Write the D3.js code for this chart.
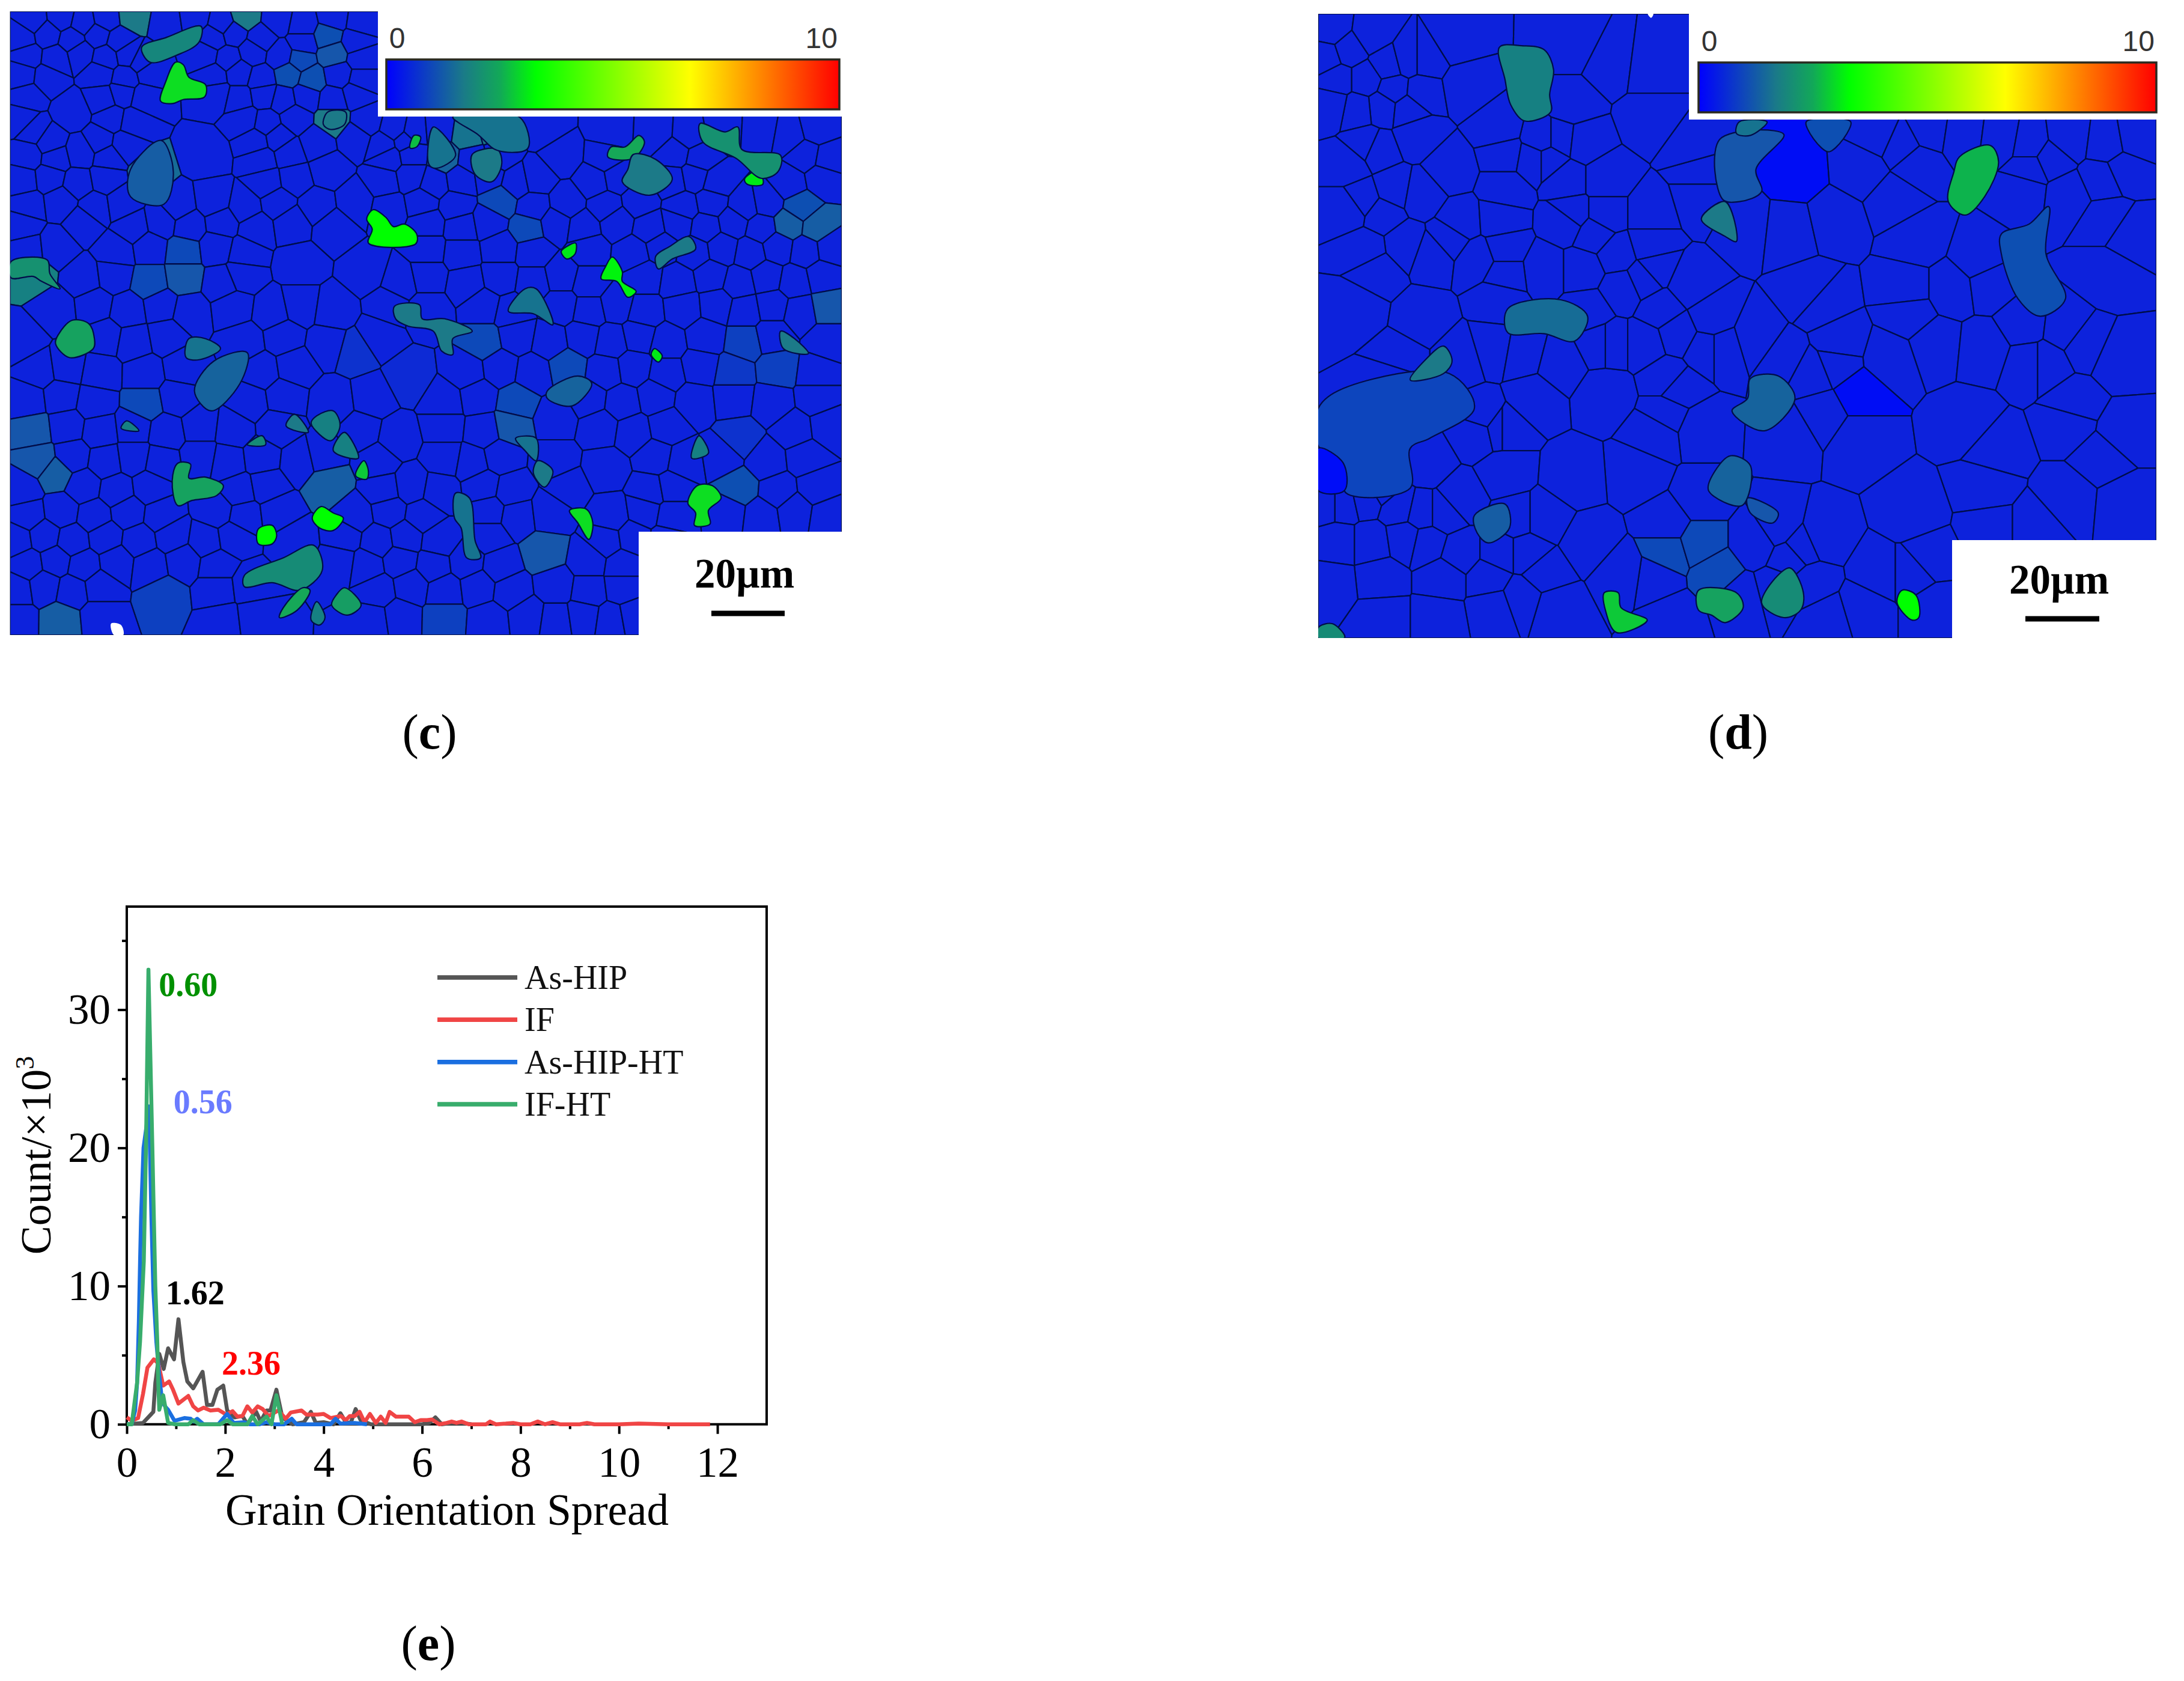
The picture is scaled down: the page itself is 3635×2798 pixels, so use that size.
<!DOCTYPE html>
<html>
<head>
<meta charset="utf-8">
<script src="https://cdn.jsdelivr.net/npm/d3@7"></script>
<style>
  body { margin: 0; background: #fff; }
  text { font-family: "Liberation Serif", serif; }
</style>
</head>
<body>
<svg id="fig" width="3635" height="2798"></svg>
<script>
// (e) grain orientation spread curves, x and count/1000
const asHipX = [0,.33,.54,.58,.66,.75,.84,.96,1.05,1.15,1.23,1.35,1.43,1.54,1.63,1.74,1.84,1.96,2.04,2.19,2.35,2.45,2.63,2.72,2.84,2.92,3.04,3.16,3.37,3.6,3.74,3.84,4,4.2,4.34,4.45,4.55,4.65,4.75,4.96,5.16,5.6,6,6.15,6.27,6.4,6.6,6.8,7];
const asHipY = [0,.1,.9,3,5.1,4,5.5,4.7,7.6,4.5,3.1,2.6,3.1,3.8,1.4,1.4,2.5,2.8,1,.5,.6,0,.9,.2,1,1,2.5,.5,0,.15,.9,.1,.15,0,.8,.15,.1,1.1,.3,0,0,0,0,.1,.5,0,.1,.1,0];
const ifX = [0,.1,.23,.33,.42,.55,.64,.74,.86,.94,1.05,1.25,1.35,1.45,1.56,1.7,1.86,2.02,2.15,2.25,2.35,2.45,2.55,2.66,2.76,2.88,3.08,3.23,3.33,3.55,3.65,3.88,4,4.14,4.35,4.45,4.53,4.63,4.73,4.83,4.94,5.06,5.16,5.26,5.34,5.47,5.73,5.85,5.97,6.1,6.2,6.35,6.5,6.6,6.7,6.8,6.95,7.1,7.3,7.38,7.5,7.7,7.85,8,8.2,8.35,8.5,8.65,8.8,9,9.2,9.35,9.5,10,10.4,11,11.5,11.85];
const ifY = [.5,.25,.45,2.2,4.1,4.7,4.4,2.8,3.1,2.5,1.5,2.05,1.3,1,1.2,1,1.05,.7,.95,.55,.6,1.3,.85,1.3,1.1,.6,1,.4,.85,1,.7,.7,.75,.45,.6,.3,.6,.6,.9,.15,.75,.1,.55,.1,.9,.55,.55,.15,.3,.3,.35,0,.1,.2,.1,.2,0,0,0,.2,0,.05,.1,0,0,.2,0,.15,0,0,0,.1,0,0,.05,0,0,0];
const asHipHtX = [0,.1,.17,.21,.245,.27,.29,.34,.455,.47,.5,.54,.6,.66,.72,.8,.84,.97,1.17,1.3,1.36,1.43,1.56,1.86,2.04,2.17,2.39,2.5,2.7,2.84,3,3.2,3.35,3.45,4.14,4.24,4.34,4.63,4.88];
const asHipHtY = [0,0,1,3,7.4,11.8,15,20,23,20,15,9.7,6,3.5,1.6,1.2,1.05,.25,.45,.4,.2,.4,0,0,.75,.1,.15,0,0,.15,0,0,.4,0,0,.4,.05,.1,0];
const ifHtX = [0,.1,.21,.27,.346,.39,.44,.52,.58,.62,.64,.66,.74,.84,.98,1.25,1.35,1.47,1.9,2.04,2.15,2.45,2.55,2.66,2.84,2.94,3.04,3.16];
const ifHtY = [0,0,3,6,11.8,20,32.9,20,10,6,3,1.05,2.1,.1,0,0,.3,0,0,.3,0,0,.6,0,.55,0,2.1,0];

const seriesNames = ["As-HIP", "IF", "As-HIP-HT", "IF-HT"];
const seriesColors = ["#555555", "#f04545", "#1a6fe0", "#38ad6c"];
const xMajor = [0,2,4,6,8,10,12];
const xMinor = [1,3,5,7,9,11];
const yMajor = [0,10,20,30];
const yMinor = [5,15,25,35];
const peakLabels = ["0.60", "0.56", "1.62", "2.36"];
const peakColors = ["#009000", "#6a7bff", "#000000", "#ff0000"];
// label anchor in chart units
const peakX = [.65, .95, .79, 1.93];
const peakY = [31.0, 22.5, 8.7, 3.6];

// grain orientation spread colour key
const gosStops = [0, 1.7, 2.5, 3.3, 6.7, 10];
const gosColors = ["#0000ff", "#1a7a88", "#12a858", "#00ff00", "#ffff00", "#ff0000"];
const baseGos = 0.5;

// map (c): grain centres [x, y, gos] in scan units
const grainsC = [
[60,42],[110,36],[150,46],[190,38],[240,32,1.7],[300,44],[350,36],[400,48],[440,34,1.7],[500,40],[545,50],[600,36],[650,44],
[40,76],[85,68],[130,80],[175,70],[215,82],[385,76],[420,66],[470,78],[545,86],[590,72,1.1],[640,84],
[50,112],[100,118],[145,106],[190,116],[230,108],[255,122],[370,110],[410,118],[455,104],[505,112],[540,120,1],[600,108,1.2],[650,118],
[40,150],[85,156],[180,148],[225,158],[270,146],[385,152],[430,146],[470,158],[520,148,1.1],[560,160,1.1],[610,150],[650,160],
[50,194],[185,198],[220,186],[260,196],[390,188],[430,198],[475,190],[510,200],[550,192],[600,200],[640,188],[130,225],
[40,240],[60,262],[200,238],[240,246],[440,240],[480,248],[530,236],[600,240,1.7],[660,244],
[90,285],[180,282],[225,290],[460,284],[500,276],[570,288],[640,276],[690,292],[730,284],[710,258],[745,266],[790,262],[840,270,1.6],[885,256,1.7],[980,258],[1100,262],[1180,266],[1240,270],[1300,258],[1370,262],[1420,272],[1470,258],
[50,312],[100,318],[145,306],[195,316],[370,310],[470,320],[520,308],[590,340],[700,316],[740,308],[800,316,1.4],[850,322],[900,312],[1010,312],[1090,318],[1215,308],[1260,318],[1450,312],[1490,320],
[40,362],[90,356],[140,368],[190,358],[270,345,1.5],[480,366],[530,358],[690,364],[740,354],[780,368],[830,360],[880,352],[930,366],[965,358],[1070,364],[1110,356],[1210,362],[1250,354],[1290,366],[1420,368],[1480,356],
[50,412],[110,404],[170,416],[220,408],[320,414],[385,404],[440,416],[500,406],[570,414],[640,404],[700,418],[760,406],[820,414],[900,404,1],[960,416],[1020,408],[1090,414],[1150,404],[1230,416],[1280,406],[1340,414],[1380,406],[1440,416,1.1],
[40,452],[150,445],[240,456],[290,446],[340,454],[400,446],[460,458],[525,448],[600,456],[770,448],[830,456],[880,446],[950,458,1],[1000,448],[1050,456],[1110,446],[1170,458],[1220,448],[1270,456],[1320,446],[1370,458],[1420,450,1.3],[1470,456,1.3],
[50,502],[100,496],[210,506],[270,496],[330,504,1],[390,496],[440,508],[540,530],[770,500],[830,508],[900,498],[960,506],[1060,500],[1140,508],[1190,496],[1250,506],[1300,498],[1350,508],[1400,496],[1450,504],[1495,498],
[60,550,1.8],[150,560],[205,552],[270,566,1],[330,556,1.2],[400,568],[435,552],[660,545],[720,566],[770,554],[840,568],[900,556],[960,566],[1010,554],[1060,568],[1160,556],[1220,566],[1280,554],[1330,568],[1380,556],[1430,566],[1480,554],
[100,620],[170,612],[230,624],[290,614],[340,626],[420,616],[490,626],[540,614],[600,624],[700,612],[770,622],[870,614],[920,626],[1010,614],[1060,624],[1110,612],[1160,626],[1230,618],[1290,612],[1340,624],[1390,614],[1440,626],[1490,616,1.2],
[40,684],[190,676],[240,686],[300,674],[440,686],[510,676],[590,690],[640,705,.7],[680,676],[870,686,1],[930,674],[990,686],[1050,676],[1100,686],[1150,674],[1200,688],[1270,676],[1340,686,.9],[1390,674],[1490,684],
[70,744],[120,736],[180,748],[260,750],[330,738],[470,746],[530,736],[735,760,.6],[840,746],[900,738],[960,748],[1020,736,1],[1090,746],[1140,738],[1200,750],[1260,736],[1320,748,.8],[1400,740,.9],[1470,750],
[50,804],[110,796],[170,808],[260,810,1],[320,798],[450,806],[510,796],[600,808],[670,798],[800,806],[860,796],[930,808,1],[1000,840],[1060,800],[1120,808],[1180,796],[1250,806],[1320,798],[1390,808],[1470,798],
[60,864,1.2],[120,856],[180,866],[240,858],[300,868],[360,856],[420,864],[500,858],[650,866],[715,880],[800,858],[870,866],[920,856,1.2],[1080,858],[1140,868],[1200,856],[1330,880,.7],[1430,864],[1490,856],
[70,924,1.2],[130,916],[190,926],[240,918],[290,928],[360,916],[410,926],[470,918],[540,926],[580,916],[680,926],[800,918],[850,928],[900,916],[1000,926],[1090,940],[1180,918],[1230,928],[1300,916],[1380,926],[1450,918],
[40,984],[100,950,1.3],[150,976],[210,986],[270,978],[430,986],[480,976],[590,970,1.3],[690,984],[740,976],[790,986],[870,976],[920,986],[1020,978],[1170,986],[1210,978],[1330,980,1.1],[1400,986],[1470,978],
[50,1034],[110,1026],[170,1036],[230,1028],[290,1036],[390,1026],[440,1036],[500,1028],[640,1036],[700,1026],[760,1036],[880,1026],[930,1036],[990,1028],[1100,1036],[1160,1026],[1210,1036],[1310,1028],[1370,1036],[1430,1026],[1490,1036],
[30,1084],[80,1076],[130,1086],[190,1078],[250,1086],[310,1076],[370,1086],[420,1078],[530,1086],[620,1076],[680,1086],[730,1078],[790,1086],[880,1076],[980,1110,1.2],[1090,1086],[1140,1078],[1200,1086],
[50,1134],[100,1126],[150,1136],[210,1128],[270,1136],[330,1126],[390,1136],[610,1128],[660,1136],[720,1126],[780,1136],[840,1128],[900,1136],[1060,1126],[1120,1136],
[30,1184],[80,1176],[130,1186],[180,1178],[295,1195,.9],[390,1184],[450,1176],[680,1186],[740,1176],[800,1186],[860,1178],[920,1186],[1000,1176],[1060,1186],[1120,1178],
[30,1244],[110,1245,1.3],[180,1238],[400,1246],[460,1238],[670,1246],[720,1238],[800,1240,.9],[880,1246],[950,1238],[1000,1246],[1050,1238],[1100,1246],[1140,1238]
];

// map (c): grains with a traced outline
const outlinesC = [
{gos:3.0, pts:[[316,125],[330,130],[340,155],[370,170],[368,195],[330,200],[310,208],[289,203],[298,165]]},
{gos:3.3, pts:[[672,421],[695,437],[708,455],[728,450],[750,470],[748,490],[663,488],[670,460],[660,440]]},
{gos:3.1, pts:[[1020,495],[1036,488],[1035,510],[1020,520],[1010,505]]},
{gos:3.2, pts:[[1102,516],[1120,545],[1120,565],[1145,585],[1130,597],[1110,565],[1082,560],[1090,535]]},
{gos:3.1, pts:[[1178,700],[1192,715],[1185,727],[1172,712]]},
{gos:3.1, pts:[[1365,342],[1373,370],[1345,370],[1340,360]]},
{gos:3.0, pts:[[1255,975],[1282,975],[1298,1000],[1275,1025],[1278,1052],[1250,1055],[1252,1030],[1238,1010]]},
{gos:3.0, pts:[[1025,1025],[1055,1022],[1067,1050],[1060,1083],[1040,1050]]},
{gos:3.3, pts:[[578,1017],[600,1030],[618,1040],[600,1065],[575,1060],[562,1040]]},
{gos:3.3, pts:[[465,1062],[490,1055],[498,1075],[490,1092],[465,1092]]},
{gos:2.8, pts:[[655,925],[663,945],[660,962],[640,955]]},
{gos:2.7, pts:[[745,272],[757,275],[750,295],[738,297]]},
{gos:2.4, pts:[[130,643],[160,650],[170,680],[168,700],[125,718],[100,690],[105,672]]},
{gos:2.4, pts:[[320,930],[343,932],[340,960],[370,958],[402,975],[390,995],[345,1005],[320,1015],[310,965]]},
{gos:2.5, pts:[[1150,272],[1160,285],[1140,318],[1094,315],[1100,295],[1125,295]]},
{gos:2.0, pts:[[440,1155],[510,1120],[565,1095],[580,1145],[540,1185],[490,1170],[440,1178]]},
{gos:2.3, pts:[[620,1180],[650,1215],[625,1235],[597,1215],[605,1195]]},
{gos:2.5, pts:[[545,1180],[558,1185],[535,1225],[503,1240],[510,1220]]},
{gos:2.1, pts:[[1260,248],[1305,265],[1328,255],[1335,300],[1405,312],[1400,345],[1370,358],[1325,318],[1265,285]]},
{gos:1.9, pts:[[255,95],[300,75],[362,53],[358,85],[320,110],[270,125]]},
{gos:2.1, pts:[[20,525],[85,522],[90,550],[108,580],[75,565],[60,555],[20,558]]},
{gos:1.7, pts:[[1140,310],[1180,320],[1210,360],[1170,392],[1120,365],[1130,340]]},
{gos:1.7, pts:[[850,310],[895,300],[903,330],[885,365],[855,350]]},
{gos:1.6, pts:[[780,255],[820,312],[785,338],[772,330]]},
{gos:1.6, pts:[[815,235],[935,235],[950,298],[895,302],[860,270]]},
{gos:1.3, pts:[[290,282],[312,345],[295,410],[235,395],[235,340]]},
{gos:1.7, pts:[[710,615],[755,612],[760,640],[800,640],[850,665],[815,680],[815,712],[795,705],[780,665],[735,655],[712,640]]},
{gos:1.6, pts:[[340,680],[370,680],[397,700],[360,722],[335,718]]},
{gos:1.4, pts:[[385,725],[445,708],[432,770],[380,825],[350,785]]},
{gos:1.6, pts:[[945,580],[965,580],[995,652],[960,630],[915,625]]},
{gos:1.7, pts:[[1240,475],[1252,500],[1210,520],[1185,540],[1180,515],[1205,495]]},
{gos:1.7, pts:[[1405,665],[1430,680],[1455,710],[1410,700]]},
{gos:1.8, pts:[[1258,875],[1275,910],[1245,920]]},
{gos:1.7, pts:[[968,925],[995,945],[980,978],[960,950]]},
{gos:1.6, pts:[[928,880],[965,880],[965,925],[945,905]]},
{gos:1.8, pts:[[570,835],[600,825],[612,855],[595,885],[560,850]]},
{gos:1.8, pts:[[620,868],[645,920],[600,905]]},
{gos:1.7, pts:[[530,832],[555,868],[515,855]]},
{gos:1.8, pts:[[228,845],[250,865],[218,860]]},
{gos:2.0, pts:[[472,875],[478,893],[445,893]]},
{gos:1.6, pts:[[820,990],[845,1000],[855,1085],[865,1120],[840,1120],[830,1060],[818,1040]]},
{gos:1.7, pts:[[590,225],[622,225],[620,250],[595,260],[582,250]]},
{gos:1.8, pts:[[570,1208],[585,1240],[575,1255],[560,1245]]},
{gos:1.4, pts:[[985,785],[1040,755],[1065,770],[1030,815],[985,800]]}
];
const holesC = [[[200,1252],[218,1255],[222,1275],[205,1275]]];

// map (d): grain centres [x, y, gos] in scan units
const grainsD = [
[40,60],[30,115],[70,100],[110,70],[50,160],[100,160],[140,130],[175,120],[210,120],[150,180],[200,185],[260,85],[130,215],[175,220],[85,220],[40,210],
[280,170],[470,90],[540,130],[470,210],[610,140],[610,235],[415,280],[450,280],[490,285],[340,260],[250,340],[120,300],[190,270],[70,330],[100,290],
[350,310],[400,320],[430,320],[460,360],[350,380],[95,400],[150,380],[200,390],[130,430],[70,420],[270,445],[340,440],[250,480],[170,490],[100,500],[120,545],[220,510],[350,500],[300,520],
[420,540],[350,550],[490,540],[550,510],[610,430],[530,360],[530,430],[470,430],[510,470],[460,445],[610,490],[620,540],[560,580],[500,625],[340,600],[85,620],[200,640],[270,720],[160,720],[150,755],[330,700],[380,710],[450,730],[530,790],[400,800],[350,860],[310,835],[300,870],[340,860],
[350,950],[210,930],[590,950],[470,960],[520,690],[540,690],[600,690],[630,620],[660,670],[710,700],[640,760],[640,830],[700,860],[620,870],[660,780],[720,640],[680,570],[600,560],
[700,340],[700,400],[690,300],[870,350,.15],[780,450],[860,460],[940,440],[990,340],[1050,400],[1090,330],[1060,290],[1020,270],[1110,260],[1170,270],[1240,280],[1290,290],[1360,280],[1430,290],[1480,280],[1290,340],[1330,320],[1280,380],[1360,390],[1420,360],[1460,340],[1430,440],[1470,470],[1090,480],[900,590],[915,605],
[1150,580],[1070,580],[1075,630],[1220,570],[1200,520],[1430,550],[1280,650],[1355,660],[1290,730],[1320,730],[1390,690],[1450,720],[1120,690],[1040,720],[1210,700],[950,690],[945,730],[850,720],[800,680],[740,700],[900,750],[985,790,.15],[860,870],[920,830],[985,880],[1180,850],[1370,810],[1360,850],[1460,870],[1420,920],[1230,900],[1210,980],[1360,1000],[1460,1010],[920,1080],[1080,1030],[1110,1120],[1220,1060],[1300,1060],
[30,1010],[60,1010],[100,1000],[130,980],[160,1020],[200,1030],[240,1030],[270,1000],[370,1040],[420,1040],[50,1090],[110,1090],[170,1080],[210,1090],[270,1110],[340,1110],[390,1110],[125,1160],[40,1170],[240,1160],[320,1160],[420,1150],[500,1090],[640,1050],[700,1000],[800,1090],[640,1110,1],[700,1090,1],[730,1150,1],[620,1160],[840,1060],[880,1100],[860,1120],[840,1180],[770,1200],[440,1220],[330,1220],[380,1200],[230,1240],[130,1240],[560,1150],[930,1240],[990,1220],[1020,1150],[1080,1150],[1120,1220],[900,1170],[650,1240]
];

const outlinesD = [
{gos:.95, pts:[[15,820],[60,780],[250,750],[295,820],[215,880],[180,900],[180,980],[65,990],[60,930],[15,895]]},
{gos:.1, pts:[[15,900],[60,930],[62,985],[15,985]]},
{gos:1.8, pts:[[340,95],[380,92],[420,100],[437,140],[430,190],[432,225],[385,243],[360,210],[350,160]]},
{gos:2.6, pts:[[1165,315],[1220,292],[1235,325],[1210,395],[1175,432],[1145,405],[1155,345]]},
{gos:1.7, pts:[[745,405],[765,485],[745,475],[702,440]]},
{gos:1.5, pts:[[355,620],[450,602],[498,635],[475,685],[420,670],[355,668]]},
{gos:1.7, pts:[[240,695],[255,725],[240,750],[180,763],[205,725]]},
{gos:1.4, pts:[[790,760],[840,755],[870,800],[815,865],[757,825],[785,800]]},
{gos:1.4, pts:[[755,915],[790,935],[775,1015],[715,985],[730,940]]},
{gos:1.2, pts:[[785,1000],[840,1030],[830,1050],[790,1030]]},
{gos:1.3, pts:[[295,1035],[350,1012],[358,1060],[320,1090],[300,1070]]},
{gos:1.2, pts:[[735,280],[850,270],[800,340],[810,385],[770,405],[740,400]]},
{gos:1.6, pts:[[770,245],[820,245],[790,272],[765,268]]},
{gos:1.1, pts:[[890,245],[970,245],[930,305]]},
{gos:1.1, pts:[[1325,415],[1320,510],[1355,600],[1310,635],[1270,600],[1240,510],[1240,470],[1290,450]]},
{gos:2.8, pts:[[528,1190],[553,1190],[558,1220],[605,1245],[550,1270],[530,1225]]},
{gos:2.4, pts:[[697,1185],[765,1190],[777,1220],[745,1250],[720,1235],[697,1225]]},
{gos:2.0, pts:[[860,1140],[885,1190],[880,1225],[850,1240],[810,1210]]},
{gos:3.3, pts:[[1062,1185],[1087,1195],[1092,1240],[1080,1245],[1053,1210]]},
{gos:2.0, pts:[[15,1260],[40,1252],[62,1275],[62,1281],[15,1281]]}
];
const holesD = [[[606,28],[616,28],[612,36]]];

const svg = d3.select("#fig");
const gosColor = d3.scaleLinear().domain(gosStops).range(gosColors).clamp(true);

// gradient for the colour keys, same stops as the maps
const defs = svg.append("defs");
const keyGrad = defs.append("linearGradient").attr("id", "gosKey");
const gosScale = d3.scaleLinear().domain([0, 10]).range([0, 100]);
gosStops.forEach((g, i) => {
  keyGrad.append("stop").attr("offset", gosScale(g) + "%").attr("stop-color", gosColors[i]);
});
defs.append("filter").attr("id", "soft").append("feGaussianBlur").attr("stdDeviation", 0.5);

function drawMap(cfg) {
  const x = d3.scaleLinear().domain(cfg.xDomain).range(cfg.xRange);
  const y = d3.scaleLinear().domain(cfg.yDomain).range(cfg.yRange);
  const g = svg.append("g");
  const clipId = "clip" + cfg.id;
  defs.append("clipPath").attr("id", clipId).append("rect")
    .attr("x", cfg.xRange[0]).attr("y", cfg.yRange[0])
    .attr("width", cfg.xRange[1] - cfg.xRange[0]).attr("height", cfg.yRange[1] - cfg.yRange[0]);
  const inner = g.append("g").attr("clip-path", `url(#${clipId})`).append("g").attr("filter", "url(#soft)");

  const pts = cfg.grains.map(d => [x(d[0]), y(d[1])]);
  const vor = d3.Delaunay.from(pts).voronoi([cfg.xRange[0], cfg.yRange[0], cfg.xRange[1], cfg.yRange[1]]);
  inner.selectAll("path.grain").data(cfg.grains).join("path")
    .attr("class", "grain")
    .attr("d", (d, i) => vor.renderCell(i))
    .attr("fill", d => gosColor(d[2] === undefined ? baseGos : d[2]))
    .attr("stroke", "#060c48")
    .attr("stroke-width", 2.2);

  const poly = d3.line().x(d => x(d[0])).y(d => y(d[1])).curve(d3.curveCatmullRomClosed.alpha(0.5));
  inner.selectAll("path.outline").data(cfg.outlines).join("path")
    .attr("class", "outline")
    .attr("d", d => poly(d.pts))
    .attr("fill", d => gosColor(d.gos))
    .attr("stroke", "#060c48")
    .attr("stroke-width", 2.2);
  inner.selectAll("path.hole").data(cfg.holes).join("path")
    .attr("class", "hole")
    .attr("d", d => poly(d))
    .attr("fill", "#fff");

  // white corners over the map, key and scale bar sit on them
  g.append("rect").attr("x", cfg.keyBox[0]).attr("y", cfg.keyBox[1] - 6)
    .attr("width", cfg.keyBox[2] - cfg.keyBox[0]).attr("height", cfg.keyBox[3] - cfg.keyBox[1] + 6).attr("fill", "#fff");
  g.append("rect").attr("x", cfg.barBox[0]).attr("y", cfg.barBox[1])
    .attr("width", cfg.barBox[2] - cfg.barBox[0]).attr("height", cfg.barBox[3] - cfg.barBox[1] + 4).attr("fill", "#fff");

  const k = cfg.key;
  g.append("rect").attr("x", k[0]).attr("y", k[1]).attr("width", k[2] - k[0]).attr("height", k[3] - k[1])
    .attr("fill", "url(#gosKey)").attr("stroke", "#2a2a20").attr("stroke-width", 3.5);
  g.append("text").text("0").attr("x", k[0] + 18).attr("y", k[1] - 19).attr("text-anchor", "middle")
    .style("font-family", "Liberation Sans").attr("font-size", 48).attr("fill", "#333");
  g.append("text").text("10").attr("x", k[2] - 3).attr("y", k[1] - 19).attr("text-anchor", "end")
    .style("font-family", "Liberation Sans").attr("font-size", 48).attr("fill", "#333");

  g.append("text").text("20µm").attr("x", cfg.scaleText[0]).attr("y", cfg.scaleText[1]).attr("text-anchor", "middle")
    .attr("font-size", 69).attr("font-weight", "bold").attr("fill", "#000");
  g.append("line").attr("x1", cfg.scaleBar[0]).attr("x2", cfg.scaleBar[1])
    .attr("y1", cfg.scaleBar[2]).attr("y2", cfg.scaleBar[2])
    .attr("stroke", "#000").attr("stroke-width", 9);
}

drawMap({
  id: "C", grains: grainsC, outlines: outlinesC, holes: holesC,
  xDomain: [18, 1515], xRange: [16.6, 1401], yDomain: [23, 1275], yRange: [19, 1057],
  keyBox: [629, 19, 1402, 194], barBox: [1063, 885, 1402, 1057],
  key: [643, 99, 1397, 182], scaleText: [1239, 978], scaleBar: [1184, 1306, 1021]
});
drawMap({
  id: "D", grains: grainsD, outlines: outlinesD, holes: holesD,
  xDomain: [15, 1518], xRange: [2194, 3589], yDomain: [28, 1281], yRange: [23, 1062],
  keyBox: [2811, 23, 3590, 199], barBox: [3249, 899, 3590, 1062],
  key: [2827, 104, 3589, 187], scaleText: [3427, 988], scaleBar: [3371, 3494, 1030]
});

// (e) line chart
const plotLeft = 211, plotRight = 1276, plotTop = 1509, plotBottom = 2370.7;
const x = d3.scaleLinear().domain([0, 13]).range([plotLeft, plotRight]);
const y = d3.scaleLinear().domain([0, 37.46]).range([plotBottom, plotTop]);

const chart = svg.append("g");
const bottomMajor = d3.axisBottom(x).tickValues(xMajor).tickSize(16).tickPadding(21).tickFormat(d3.format("d"));
const bottomMinor = d3.axisBottom(x).tickValues(xMinor).tickSize(8).tickFormat("");
const leftMajor = d3.axisLeft(y).tickValues(yMajor).tickSize(15).tickPadding(12).tickFormat(d3.format("d"));
const leftMinor = d3.axisLeft(y).tickValues(yMinor).tickSize(8).tickFormat("");

[bottomMajor, bottomMinor].forEach(a => {
  chart.append("g").attr("transform", `translate(0,${plotBottom})`).call(a);
});
[leftMajor, leftMinor].forEach(a => {
  chart.append("g").attr("transform", `translate(${plotLeft},0)`).call(a);
});
chart.selectAll(".domain").remove();
chart.selectAll(".tick line").attr("stroke", "#000").attr("stroke-width", 4);
chart.selectAll(".tick text").attr("font-size", 71).attr("fill", "#000").style("font-family", "Liberation Serif");

chart.append("rect").attr("x", plotLeft).attr("y", plotTop).attr("width", plotRight - plotLeft).attr("height", plotBottom - plotTop)
  .attr("fill", "none").attr("stroke", "#000").attr("stroke-width", 4);

const seriesX = [asHipX, ifX, asHipHtX, ifHtX];
const seriesY = [asHipY, ifY, asHipHtY, ifHtY];
const line = d3.line().x(d => x(d[0])).y(d => y(d[1]));
seriesNames.forEach((name, i) => {
  chart.append("path")
    .attr("d", line(d3.zip(seriesX[i], seriesY[i])))
    .attr("fill", "none")
    .attr("stroke", seriesColors[i])
    .attr("stroke-width", 6.5)
    .attr("stroke-linejoin", "round");
});

peakLabels.forEach((t, i) => {
  chart.append("text").text(t).attr("x", x(peakX[i])).attr("y", y(peakY[i]))
    .attr("font-size", 56).attr("font-weight", "bold").attr("fill", peakColors[i]);
});

// legend
const legendRows = d3.scalePoint().domain(seriesNames).range([1627, 1838]);
seriesNames.forEach((name, i) => {
  chart.append("line").attr("x1", 728).attr("x2", 861)
    .attr("y1", legendRows(name)).attr("y2", legendRows(name))
    .attr("stroke", seriesColors[i]).attr("stroke-width", 7.5);
  chart.append("text").text(name).attr("x", 873).attr("y", legendRows(name) + 19)
    .attr("font-size", 56).attr("fill", "#111");
});

chart.append("text").text("Grain Orientation Spread").attr("x", 744).attr("y", 2538)
  .attr("text-anchor", "middle").attr("font-size", 73).attr("fill", "#000");

const yLabel = chart.append("text").attr("transform", "translate(84,1923) rotate(-90)")
  .attr("text-anchor", "middle").attr("font-size", 72).attr("fill", "#000");
yLabel.append("tspan").text("Count/×10");
yLabel.append("tspan").text("3").attr("font-size", 44).attr("dy", -28);

// panel letters
[["c", 715, 1246], ["d", 2893, 1246], ["e", 713, 2763]].forEach(p => {
  const t = svg.append("text").attr("x", p[1]).attr("y", p[2]).attr("text-anchor", "middle")
    .attr("font-size", 82).attr("fill", "#000");
  t.append("tspan").text("(");
  t.append("tspan").text(p[0]).attr("font-weight", "bold");
  t.append("tspan").text(")");
});
</script>
</body>
</html>
